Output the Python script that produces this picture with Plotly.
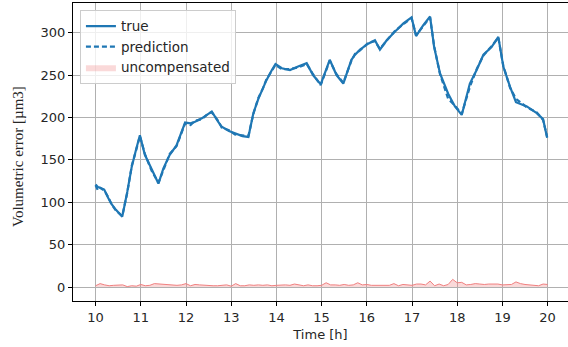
import plotly.graph_objects as go

# ---- data ----
t_true = [10.00, 10.05, 10.10, 10.19, 10.28, 10.35, 10.45, 10.59, 10.70, 10.80, 10.90, 10.98,
          11.09, 11.24, 11.39, 11.50, 11.64, 11.79, 11.90, 11.98, 12.10, 12.20, 12.35, 12.50,
          12.57, 12.71, 12.79, 12.95, 13.08, 13.25, 13.38, 13.49, 13.60, 13.70, 13.78, 13.90,
          13.98, 14.12, 14.30, 14.48, 14.67, 14.81, 14.98, 15.18, 15.33, 15.48, 15.59, 15.66,
          15.74, 15.85, 16.03, 16.18, 16.29, 16.44, 16.62, 16.81, 16.99, 17.09, 17.25, 17.40,
          17.49, 17.62, 17.80, 17.95, 18.10, 18.28, 18.43, 18.58, 18.76, 18.91, 19.02, 19.17,
          19.30, 19.54, 19.76, 19.90, 19.99]
true_vals = [121, 118, 117, 115, 105, 98, 91, 83, 112, 142, 163, 179,
             156, 138, 122, 140, 156, 167, 182, 194, 193, 195, 199, 204,
             207, 195, 189, 184, 181, 178, 177, 205, 222, 235, 244, 256,
             263, 258, 256, 260, 264, 250, 239, 268, 250, 240, 258, 268,
             274, 280, 287, 291, 280, 291, 301, 311, 318, 296, 309, 319,
             283, 252, 228, 213, 203, 240, 256, 274, 283, 295, 260, 236,
             218, 213, 205, 198, 176]
pred_vals = [120, 114, 117, 114, 106, 98, 90, 84, 111, 143, 162, 178,
             157, 137, 123, 139, 157, 166, 183, 193, 191, 196, 198, 205,
             206, 196, 188, 185, 180, 179, 178, 204, 223, 234, 245, 255,
             262, 257, 257, 259, 263, 251, 238, 267, 251, 241, 257, 267,
             275, 279, 288, 290, 281, 290, 302, 310, 317, 297, 308, 318,
             284, 251, 222, 214, 204, 236, 257, 273, 284, 294, 261, 235,
             222, 212, 206, 197, 177]

t_unc = [10.0, 10.1, 10.2, 10.3, 10.4, 10.5, 10.6, 10.7, 10.8, 10.9,
         11.0, 11.1, 11.2, 11.3, 11.4, 11.5, 11.6, 11.7, 11.8, 11.9,
         12.0, 12.1, 12.2, 12.3, 12.4, 12.5, 12.6, 12.7, 12.8, 12.9,
         13.0, 13.1, 13.2, 13.3, 13.4, 13.5, 13.6, 13.7, 13.8, 13.9,
         14.0, 14.1, 14.2, 14.3, 14.4, 14.5, 14.6, 14.7, 14.8, 14.9,
         15.0, 15.1, 15.2, 15.3, 15.4, 15.5, 15.6, 15.7, 15.8, 15.9,
         16.0, 16.1, 16.2, 16.3, 16.4, 16.5, 16.6, 16.7, 16.8, 16.9,
         17.0, 17.1, 17.2, 17.3, 17.4, 17.5, 17.6, 17.7, 17.8, 17.9,
         18.0, 18.1, 18.2, 18.3, 18.4, 18.5, 18.6, 18.7, 18.8, 18.9,
         19.0, 19.1, 19.2, 19.3, 19.4, 19.5, 19.6, 19.7, 19.8, 19.9, 20.0]
unc_vals = [1.5, 4, 2.5, 1.5, 2, 2, 2.5, 0.5, 1.5, 1,
            3, 1.5, 2, 4, 3.5, 3, 2.5, 2, 2, 2.5,
            4, 1.5, 3, 2.5, 2, 1.5, 1.5, 1.5, 2, 2.5,
            1, 4, 1.5, 1.5, 2.5, 2, 2.5, 2, 2.5, 1.5,
            2, 2.5, 2.5, 2, 3.5, 2.5, 1.5, 2.5, 1.5, 1.5,
            2, 5, 2.5, 2.5, 2, 3, 2, 2.5, 5, 2.5,
            3, 2, 2, 2.5, 2, 2, 4, 1.5, 3, 2.5,
            2, 3.5, 3.5, 2.5, 7, 1.5, 3.5, 1.5, 3, 9,
            5, 5.5, 2.5, 3, 4, 3.5, 3, 3.5, 3.5, 3.5,
            2.5, 2.5, 3, 6, 4, 3, 2.5, 2.5, 1.5, 3.5, 3]

x_ticks = [10, 11, 12, 13, 14, 15, 16, 17, 18, 19, 20]
y_ticks = [0, 50, 100, 150, 200, 250, 300]

BLUE = "#1f77b4"
FONT = "DejaVu Sans"

fig = go.Figure()
fig.add_trace(go.Scatter(x=t_unc, y=unc_vals, mode="lines", fill="tozeroy",
                         fillcolor="rgba(240,128,128,0.3)", line=dict(width=0),
                         name="uncompensated", showlegend=True, legendrank=3))
fig.add_trace(go.Scatter(x=t_unc, y=unc_vals, mode="lines",
                         line=dict(color="#f08080", width=1), showlegend=False))
fig.add_trace(go.Scatter(x=t_true, y=true_vals, mode="lines", name="true",
                         line=dict(color=BLUE, width=2.2), legendrank=1))
fig.add_trace(go.Scatter(x=t_true, y=pred_vals, mode="lines", name="prediction",
                         line=dict(color=BLUE, width=2.2, dash="5px,3px"), legendrank=2))

axis_common = dict(showgrid=True, gridcolor="#b0b0b0", gridwidth=1,
                   showline=True, linecolor="black", linewidth=1,
                   ticks="outside", ticklen=4, tickcolor="black",
                   tickfont=dict(family=FONT, size=13, color="#262626"),
                   zeroline=False)

fig.update_layout(
    width=568, height=347,
    margin=dict(l=73, r=0, t=3, b=46),
    paper_bgcolor="white", plot_bgcolor="white",
    xaxis=dict(range=[9.5, 9.5 + 495 / 45.2], tickvals=x_ticks, mirror=True,
               title=dict(text="Time [h]", font=dict(family=FONT, size=13, color="#262626"),
                          standoff=6),
               **axis_common),
    yaxis=dict(range=[-16.5, 335], tickvals=y_ticks, mirror=False, **axis_common),
    legend=dict(x=0.014, y=0.977, xanchor="left", yanchor="top",
                bgcolor="rgba(255,255,255,0.8)", bordercolor="#cccccc", borderwidth=1,
                font=dict(family=FONT, size=13.5, color="#262626"),
                traceorder="normal", itemwidth=30),
    annotations=[dict(text="Volumetric error [µm3]", textangle=-90,
                      xref="paper", yref="paper", x=(18 - 73) / 495, y=(301 - 157) / 298,
                      xanchor="center", yanchor="middle", showarrow=False,
                      font=dict(family="Liberation Serif", size=15, color="#262626"))],
)

fig.write_html("out.html", config={"displayModeBar": False})
